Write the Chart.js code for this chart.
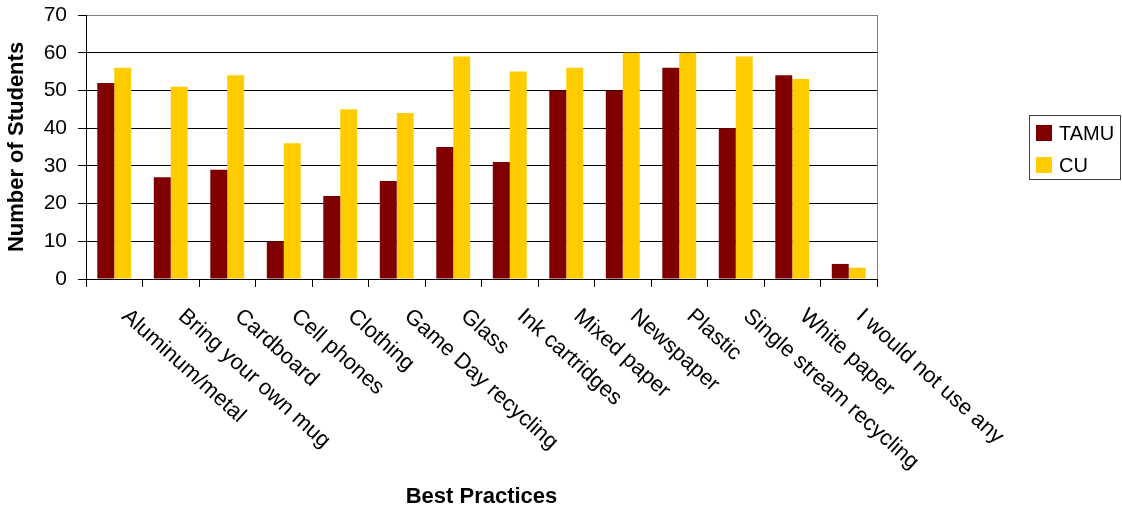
<!DOCTYPE html>
<html>
<head>
<meta charset="utf-8">
<title>Best Practices</title>
<script src="https://cdn.jsdelivr.net/npm/chart.js@4/dist/chart.umd.min.js"></script>
<style>
  html, body { margin: 0; padding: 0; background: #fff; }
  #wrap { width: 1122px; height: 512px; position: relative; }
</style>
</head>
<body>
<div id="wrap"><canvas id="practiceChart"></canvas></div>
<script>
// survey answers per recycling option
const categories = [
    'Aluminum/metal', 'Bring your own mug', 'Cardboard', 'Cell phones', 'Clothing',
    'Game Day recycling', 'Glass', 'Ink cartridges', 'Mixed paper', 'Newspaper',
    'Plastic', 'Single stream recycling', 'White paper', 'I would not use any'
];
const tamuCounts = [52, 27, 29, 10, 22, 26, 35, 31, 50, 50, 56, 40, 54, 4];
const cuCounts   = [56, 51, 54, 36, 45, 44, 59, 55, 56, 60, 60, 59, 53, 3];
const yTicks = [0, 10, 20, 30, 40, 50, 60, 70];

const FONT = 'Arial, "Liberation Sans", sans-serif';
const LABEL_ANGLE = 42 * Math.PI / 180;

// slanted category names under the x axis
const slantedLabels = {
    id: 'slantedLabels',
    afterDraw(chart) {
        const ctx = chart.ctx;
        const xs = chart.scales.x;
        const bottom = chart.chartArea.bottom;
        ctx.save();
        ctx.font = '22px ' + FONT;
        ctx.fillStyle = '#000';
        ctx.textAlign = 'left';
        ctx.textBaseline = 'top';
        categories.forEach((name, i) => {
            const px = xs.getPixelForValue(i);
            ctx.save();
            ctx.translate(px + 18, bottom + 26);
            ctx.rotate(LABEL_ANGLE);
            ctx.fillText(name, 0, 0);
            ctx.restore();
        });
        ctx.restore();
    }
};

// grey frame on the right edge of the plot
const plotFrame = {
    id: 'plotFrame',
    afterDatasetsDraw(chart) {
        const { ctx, chartArea } = chart;
        ctx.save();
        ctx.strokeStyle = '#808080';
        ctx.lineWidth = 1;
        ctx.beginPath();
        ctx.moveTo(Math.round(chartArea.right) + 0.5, chartArea.top);
        ctx.lineTo(Math.round(chartArea.right) + 0.5, chartArea.bottom);
        ctx.stroke();
        ctx.restore();
    }
};

// boxed legend on the right
const boxLegend = {
    id: 'boxLegend',
    afterDraw(chart) {
        const ctx = chart.ctx;
        const left = 1029.5, top = 115.5, w = 91, h = 64;
        ctx.save();
        ctx.strokeStyle = '#404040';
        ctx.lineWidth = 1;
        ctx.strokeRect(left, top, w, h);
        ctx.font = '20px ' + FONT;
        ctx.textBaseline = 'middle';
        chart.data.datasets.forEach((ds, i) => {
            const cy = 133 + i * 32;
            ctx.fillStyle = ds.backgroundColor;
            ctx.fillRect(1036, cy - 8, 16, 16);
            ctx.fillStyle = '#000';
            ctx.fillText(ds.label, 1059, cy + 1);
        });
        ctx.restore();
    }
};

new Chart(document.getElementById('practiceChart'), {
    type: 'bar',
    data: {
        labels: categories,
        datasets: [
            { label: 'TAMU', data: tamuCounts, backgroundColor: '#800000', borderWidth: 0 },
            { label: 'CU', data: cuCounts, backgroundColor: '#FFCC00', borderWidth: 0 }
        ]
    },
    options: {
        responsive: true,
        maintainAspectRatio: false,
        animation: false,
        layout: { autoPadding: false, padding: { top: 15, right: 245, left: 0, bottom: 0 } },
        datasets: { bar: { categoryPercentage: 0.6, barPercentage: 1.0 } },
        scales: {
            x: {
                afterFit(scale) {
                    scale.height = 233;
                    scale.paddingLeft = 0;
                    scale.paddingRight = 0;
                },
                ticks: { display: false },
                grid: {
                    offset: true,
                    drawOnChartArea: false,
                    drawTicks: true,
                    tickLength: 8,
                    color: '#000'
                },
                border: { color: '#000' },
                title: {
                    display: true,
                    text: 'Best Practices',
                    color: '#000',
                    font: { family: FONT, size: 22, weight: 'bold' },
                    padding: 2
                }
            },
            y: {
                min: 0,
                max: 70,
                afterFit(scale) {
                    scale.width = 86;
                    scale.paddingTop = 0;
                    scale.paddingBottom = 0;
                },
                afterBuildTicks(scale) { scale.ticks = yTicks.map(v => ({ value: v })); },
                ticks: {
                    color: '#000',
                    padding: 11,
                    font: { family: FONT, size: 21 }
                },
                grid: {
                    color: c => (c.tick && c.tick.value === 70 ? '#808080' : '#000'),
                    tickColor: '#000',
                    tickLength: 8
                },
                border: { color: '#000' },
                title: {
                    display: true,
                    text: 'Number of Students',
                    color: '#000',
                    font: { family: FONT, size: 22, weight: 'bold' },
                    padding: 4
                }
            }
        },
        plugins: {
            legend: { display: false },
            tooltip: { enabled: false }
        }
    },
    plugins: [slantedLabels, plotFrame, boxLegend]
});
</script>
</body>
</html>
